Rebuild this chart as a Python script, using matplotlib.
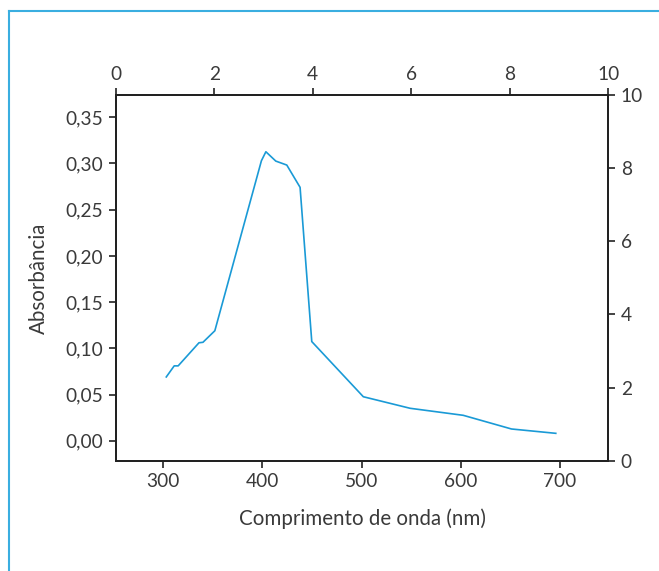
import matplotlib
matplotlib.use("Agg")
import matplotlib.pyplot as plt
from matplotlib.lines import Line2D
from matplotlib.ticker import FuncFormatter

wavelength = [303, 311, 315, 336, 340, 352, 399, 403.5, 413.5, 424.6, 438, 449.8,
              501.8, 549, 602.6, 651.3, 696]
absorbance = [0.069, 0.081, 0.081, 0.106, 0.1065, 0.119, 0.303, 0.3127, 0.3026, 0.2983,
              0.2742, 0.1073, 0.0476, 0.0351, 0.0275, 0.0127, 0.0080]
x_ticks = [300, 400, 500, 600, 700]
y_ticks = [0.00, 0.05, 0.10, 0.15, 0.20, 0.25, 0.30, 0.35]
top_ticks = [0, 2, 4, 6, 8, 10]
right_ticks = [0, 2, 4, 6, 8, 10]

plt.rcParams['font.family'] = ['Lato', 'DejaVu Sans']
plt.rcParams['font.weight'] = 'normal'

text_color = '#3a3a3a'
line_color = '#1a9ad6'
frame_color = '#3aaee0'

fig = plt.figure(figsize=(6.59, 5.71), dpi=100)
ax = fig.add_axes([0.1756, 0.1932, 0.9231 - 0.1756, 0.8336 - 0.1932])
ax.plot(wavelength, absorbance, color=line_color, lw=1.2)
ax.set_xlim(252, 749)
ax.set_ylim(-0.0216, 0.3741)
ax.set_xticks(x_ticks)
ax.set_yticks(y_ticks)
ax.yaxis.set_major_formatter(FuncFormatter(lambda v, p: f"{v:.2f}".replace('.', ',')))
ax.set_xlabel("Comprimento de onda (nm)", fontsize=14.8, color=text_color, labelpad=13)
ax.set_ylabel("Absorbância", fontsize=14.8, color=text_color, labelpad=12)

ax2 = ax.twinx()
ax2.set_ylim(0, 10)
ax2.set_yticks(right_ticks)
ax3 = ax.twiny()
ax3.set_xlim(0, 10)
ax3.set_xticks(top_ticks)

for a in (ax, ax2, ax3):
    for s in a.spines.values():
        s.set_linewidth(1.3)
        s.set_color('#222222')
    a.tick_params(labelsize=13.8, labelcolor=text_color, length=5, width=1.2,
                  color='#222222', direction='out', pad=4)

fig.add_artist(Line2D([9 / 659, 9 / 659], [0, 1 - 11 / 571], transform=fig.transFigure,
                      color=frame_color, lw=1.5))
fig.add_artist(Line2D([9 / 659, 1], [1 - 11 / 571, 1 - 11 / 571], transform=fig.transFigure,
                      color=frame_color, lw=1.5))

fig.savefig("out.png", dpi=100)
